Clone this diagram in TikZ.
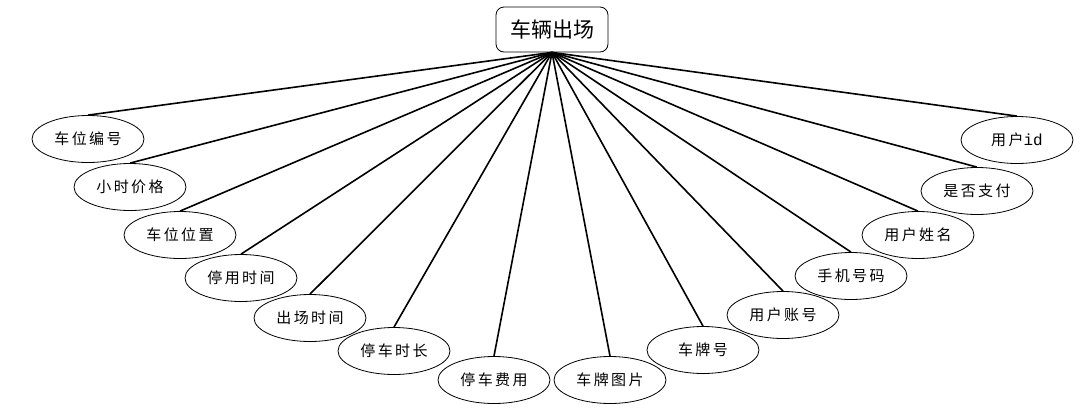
\documentclass[tikz,border=0pt]{standalone}
\usepackage{fontspec}
\usetikzlibrary{shapes.geometric}
\newfontfamily\cjk{Noto Sans CJK SC}
\newfontfamily\cjksp{Noto Sans CJK SC}[LetterSpace=16]
\newfontfamily\latmono{Liberation Mono}
\tikzset{
  attr/.style={draw, ellipse, line width=0.8pt, minimum width=112pt, minimum height=47pt, inner sep=0pt, font=\cjksp\fontsize{15}{18}\selectfont},
  rootbox/.style={draw, rounded corners=8pt, line width=0.8pt, minimum width=112pt, minimum height=45pt, inner sep=0pt, font=\cjk\fontsize{21}{24}\selectfont},
  link/.style={line width=1.6pt}
}
\begin{document}
\begin{tikzpicture}[x=1pt,y=-1pt]
\useasboundingbox (0,0) rectangle (1080,416);
\node[rootbox] (root) at (552,29.5) {车辆出场};
\node[attr] (a1) at (88,139) {车位编号};
\node[attr] (a2) at (130,187) {小时价格};
\node[attr] (a3) at (180,235) {车位位置};
\node[attr] (a4) at (241,278) {停用时间};
\node[attr] (a5) at (310,318) {出场时间};
\node[attr] (a6) at (394,351) {停车时长};
\node[attr] (a7) at (494,380) {停车费用};
\node[attr] (a8) at (610,380) {车牌图片};
\node[attr] (a9) at (703,350) {车牌号};
\node[attr] (a10) at (783,315) {用户账号};
\node[attr] (a11) at (851,276) {手机号码};
\node[attr] (a12) at (918,235) {用户姓名};
\node[attr] (a13) at (977,191) {是否支付};
\node[attr] (a14) at (1017,140) {用户{\latmono\fontsize{16}{18}\selectfont id}};
\foreach \n in {a1,a2,a3,a4,a5,a6,a7,a8,a9,a10,a11,a12,a13,a14}
  \draw[link] (root.south) -- (\n.north);
\end{tikzpicture}
\end{document}
